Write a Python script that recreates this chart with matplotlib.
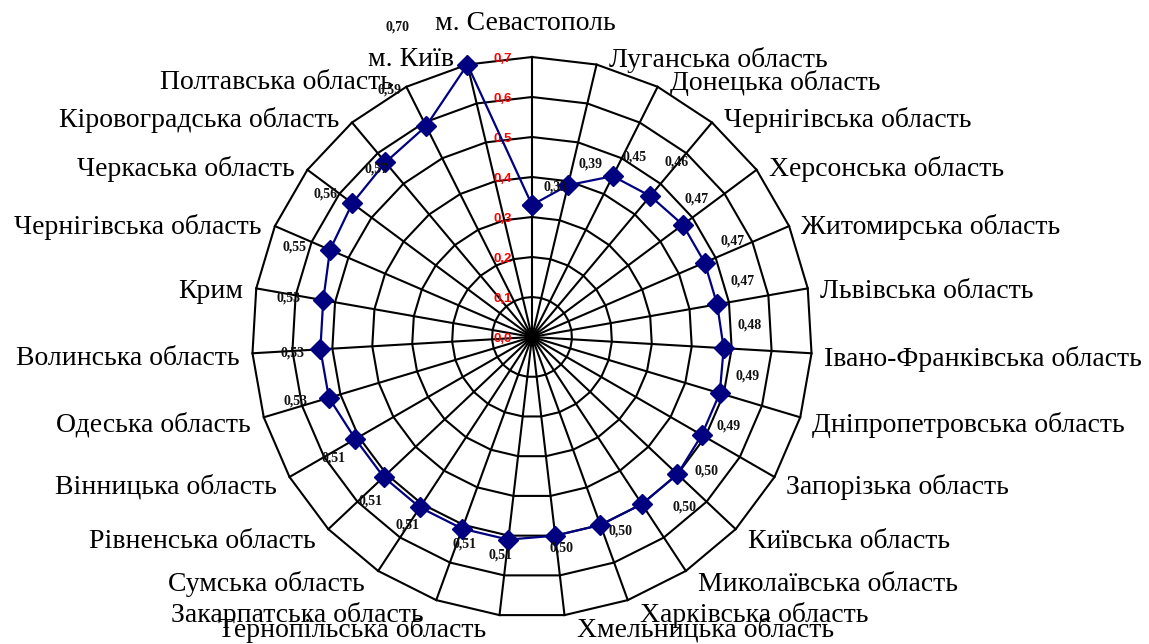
import numpy as np
import matplotlib
matplotlib.use("Agg")
import matplotlib.pyplot as plt

# Regions, clockwise from the top spoke
regions = [
    "м. Севастополь", "Луганська область", "Донецька область",
    "Чернігівська область", "Херсонська область", "Житомирська область",
    "Львівська область", "Івано-Франківська область", "Дніпропетровська область",
    "Запорізька область", "Київська область", "Миколаївська область",
    "Харківська область", "Хмельницька область", "Тернопільська область",
    "Закарпатська область", "Сумська область", "Рівненська область",
    "Вінницька область", "Одеська область", "Волинська область",
    "Крим", "Чернігівська область", "Черкаська область",
    "Кіровоградська область", "Полтавська область", "м. Київ",
]
values = [
    0.33, 0.39, 0.45, 0.46, 0.47, 0.47, 0.47, 0.48, 0.49,
    0.49, 0.50, 0.50, 0.50, 0.50, 0.51, 0.51, 0.51, 0.51,
    0.51, 0.53, 0.53, 0.53, 0.55, 0.56, 0.57, 0.59, 0.70,
]
radial_ticks = [0.0, 0.1, 0.2, 0.3, 0.4, 0.5, 0.6, 0.7]

# Pixel nudges for the value labels (dx right, dy down)
label_nudges = [
    (23, -18), (23, -21), (22, -19), (26, -34), (14, -26), (28, -22),
    (25, -23), (26, -23), (28, -17), (27, -9), (29, -3), (43, 3),
    (20, 6), (6, 12), (-8, 15), (2, 15), (-12, 18), (-13, 24),
    (-22, 19), (-33, 3), (-28, 4), (-35, -2), (-35, -3), (-27, -9),
    (-9, 7), (-37, -36), (-70, -38),
]

W, H, DPI = 1149, 644, 100
fig = plt.figure(figsize=(W / DPI, H / DPI), dpi=DPI)
fig.patch.set_facecolor("white")

cx, cy, R = 532, 337, 280
ax = fig.add_axes([(cx - R) / W, (H - cy - R) / H, 2 * R / W, 2 * R / H],
                  projection="polar")
ax.set_theta_zero_location("N")
ax.set_theta_direction(-1)
rmax = radial_ticks[-1]
ax.set_ylim(0, rmax)
ax.set_xticks([])
ax.set_yticks([])
ax.grid(False)
ax.spines["polar"].set_visible(False)

n = len(regions)
theta = np.arange(n) * 2 * np.pi / n
theta_closed = np.append(theta, theta[0])

# Polygonal web: rings and spokes
for t in radial_ticks[1:]:
    ax.plot(theta_closed, np.full(n + 1, t), color="black", lw=1.5,
            zorder=1, clip_on=False)
for th in theta:
    ax.plot([th, th], [0, rmax], color="black", lw=1.5, zorder=1,
            clip_on=False)

# Radial scale labels along the top spoke
for t in radial_ticks:
    ax.annotate(f"{t:.1f}".replace(".", ","), xy=(0, t), xytext=(-29, -2),
                textcoords="offset pixels", ha="center", va="center",
                color="red", fontsize=9.5, fontweight="bold",
                family="Liberation Sans", zorder=2)

# Series
vals_closed = np.append(values, values[0])
ax.plot(theta_closed, vals_closed, color="#000080", lw=1.6, marker="D",
        markersize=10, markerfacecolor="#000080", markeredgecolor="#000080",
        zorder=3, clip_on=False)

for th, v, (dx, dy) in zip(theta, values, label_nudges):
    ax.annotate(f"{v:.2f}".replace(".", ","), xy=(th, v), xytext=(dx, -dy),
                textcoords="offset pixels", ha="center", va="center",
                fontsize=10, fontweight="bold", family="Liberation Serif",
                color="#111111", zorder=4)

# Category labels just outside the outer ring
for i, (th, name) in enumerate(zip(theta, regions)):
    s, c = np.sin(th), np.cos(th)
    if i == 0:
        off, ha = (-7, 34), "center"
    elif s > 0:
        off, ha = (12, -(5 - 10 * c)), "left"
    else:
        off, ha = (-13, -(5 - 10 * c)), "right"
    ax.annotate(name, xy=(th, rmax), xytext=off, textcoords="offset pixels",
                ha=ha, va="center", fontsize=20, family="Liberation Serif",
                color="black", annotation_clip=False)

fig.savefig("out.png", dpi=DPI, facecolor="white")
